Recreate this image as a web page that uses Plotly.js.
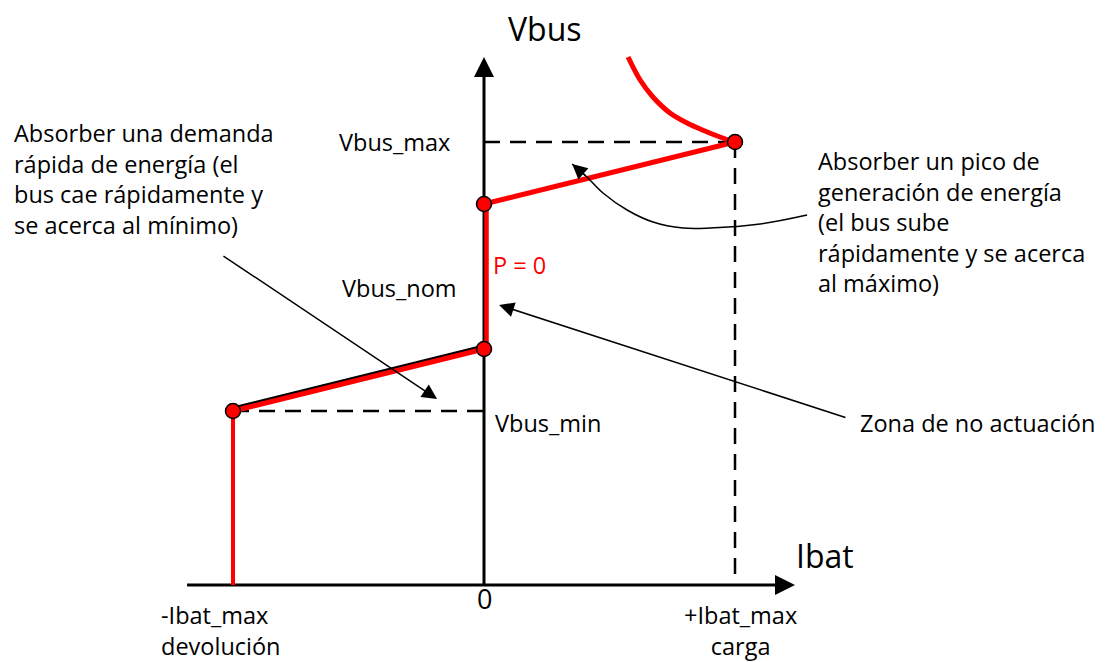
<!DOCTYPE html>
<html>
<head>
<meta charset="utf-8">
<script src="https://cdn.plot.ly/plotly-3.0.1.min.js"></script>
<style>html,body{margin:0;padding:0;background:#fff;}#chart{width:1115px;height:662px;}</style>
</head>
<body>
<div id="chart"></div>
<script>
// Characteristic values (x in units of Ibat_max, y in Vbus units of the sketch)
const ibatMax = 1;
const vbusMin = 1.74;
const vbusNomLow = 2.36;
const vbusNomHigh = 3.81;
const vbusMax = 4.43;

// Droop characteristic: -Ibat_max limit, lower slope, dead band, upper slope
const charX = [-1, -1, 0, 0, 1];
const charY = [0, 1.74, 2.36, 3.81, 4.43];

// Constant-power limit curve above Vbus_max
const limitX = [1, 0.94, 0.88, 0.809, 0.741, 0.673, 0.622, 0.574];
const limitY = [4.43, 4.48, 4.54, 4.62, 4.72, 4.88, 5.05, 5.28];

// Curved annotation pointer
const curveX = [1.287, 1.100, 0.900, 0.793, 0.673, 0.570, 0.474, 0.410, 0.351];
const curveY = [3.70, 3.61, 3.57, 3.57, 3.63, 3.75, 3.92, 4.08, 4.21];

// Axis extents
const xAxisFrom = -1.183, xAxisTo = 1.239;
const yAxisTop = 5.28;

// Labels
const labelVbus = "Vbus";
const labelIbat = "Ibat";
const labelZero = "0";
const labelNeg = "-Ibat_max<br>devolución";
const labelPos = "+Ibat_max<br>carga";
const labelVmax = "Vbus_max";
const labelVnom = "Vbus_nom";
const labelVmin = "Vbus_min";
const labelP0 = "P = 0";
const textLeft = "Absorber una demanda<br>rápida de energía (el<br>bus cae rápidamente y<br>se acerca al mínimo)";
const textRight = "Absorber un pico de<br>generación de energía<br>(el bus sube<br>rápidamente y se acerca<br>al máximo)";
const textZona = "Zona de no actuación";

const FONT = "'Open Sans', Lato, sans-serif";
const FS = 23.5;
const RED = "#ff0000";
const dash = "16px,10px";

const traces = [
  // dashed guides
  {x: [charX[1], 0], y: [vbusMin, vbusMin], mode: 'lines', line: {color: '#000', width: 2.5, dash: dash}},
  {x: [0, ibatMax], y: [vbusMax, vbusMax], mode: 'lines', line: {color: '#000', width: 2.5, dash: dash}},
  {x: [ibatMax, ibatMax], y: [vbusMax, 0], mode: 'lines', line: {color: '#000', width: 2.5, dash: dash}},
  // axes lines
  {x: [xAxisFrom, xAxisTo - 0.04], y: [0, 0], mode: 'lines', line: {color: '#000', width: 3}},
  {x: [0, 0], y: [0, yAxisTop - 0.12], mode: 'lines', line: {color: '#000', width: 3}},
  // black edge on lower slope
  {x: [charX[1], charX[2]], y: [charY[1] + 0.025, charY[2] + 0.025], mode: 'lines', line: {color: '#000', width: 4}},
  // red characteristic
  {x: [charX[0], charX[1]], y: [charY[0], charY[1]], mode: 'lines', line: {color: RED, width: 4}},
  {x: [charX[1], charX[2]], y: [charY[1], charY[2]], mode: 'lines', line: {color: RED, width: 5}},
  {x: [charX[2] + 0.01, charX[3] + 0.01], y: [charY[2], charY[3]], mode: 'lines', line: {color: RED, width: 4.5}},
  {x: [charX[3], charX[4]], y: [charY[3], charY[4]], mode: 'lines', line: {color: RED, width: 5}},
  // limit curve
  {x: limitX, y: limitY, mode: 'lines', line: {color: RED, width: 5, shape: 'spline'}},
  // curved pointer
  {x: curveX, y: curveY, mode: 'lines', line: {color: '#000', width: 1.5, shape: 'spline', smoothing: 1}},
  // markers
  {x: charX.slice(1), y: charY.slice(1), mode: 'markers', marker: {color: RED, size: 15, line: {color: '#000', width: 1.5}}}
];

const txt = (text, x, y, opts) => Object.assign({
  text: text, x: x, y: y, xref: 'x', yref: 'y', showarrow: false,
  font: {family: FONT, size: FS, color: '#000'}, xanchor: 'left', yanchor: 'middle', align: 'left'
}, opts || {});

const arrowOpts = {xref: 'x', yref: 'y', axref: 'x', ayref: 'y', showarrow: true, arrowhead: 2, arrowsize: 2, arrowwidth: 1.5, arrowcolor: '#000', text: ''};

const annotations = [
  // axis arrowheads
  {x: xAxisTo, y: 0, ax: -20, ay: 0, xref: 'x', yref: 'y', showarrow: true, arrowhead: 2, arrowsize: 1.6, arrowwidth: 2.5, arrowcolor: '#000', text: ''},
  {x: 0, y: yAxisTop, ax: 0, ay: 20, xref: 'x', yref: 'y', showarrow: true, arrowhead: 2, arrowsize: 1.6, arrowwidth: 2.5, arrowcolor: '#000', text: ''},
  // pointer arrows
  Object.assign({x: -0.187, y: 1.86, ax: -1.044, ay: 3.30}, arrowOpts),
  Object.assign({x: 0.06, y: 2.80, ax: 1.446, ay: 1.67}, arrowOpts),
  Object.assign({x: curveX[8], y: curveY[8], ax: curveX[7], ay: curveY[7]}, arrowOpts),
  // texts
  txt(labelVbus, 0.243, 5.57, {xanchor: 'center', font: {family: FONT, size: 32, color: '#000'}}),
  txt(labelIbat, 1.359, 0.30, {xanchor: 'center', font: {family: FONT, size: 32, color: '#000'}}),
  txt(labelZero, 0, -0.13, {xanchor: 'center', font: {family: FONT, size: 27, color: '#000'}}),
  txt(labelNeg, -1.293, -0.45),
  txt(labelPos, 1.02, -0.45, {xanchor: 'center', align: 'center'}),
  txt(labelVmax, -0.586, vbusMax),
  txt(labelVnom, -0.575, 2.97),
  txt(labelVmin, 0.036, 1.62),
  txt(labelP0, 0.028, 3.20, {font: {family: FONT, size: FS, color: RED}}),
  txt(textLeft, -1.88, 4.06),
  txt(textRight, 1.323, 3.63),
  txt(textZona, 1.49, 1.62)
];

const layout = {
  width: 1115, height: 662,
  margin: {l: 0, r: 0, t: 0, b: 0},
  paper_bgcolor: '#fff', plot_bgcolor: '#fff',
  showlegend: false,
  xaxis: {range: [-1.9283, 2.5139], visible: false, fixedrange: true},
  yaxis: {range: [-0.77, 5.85], visible: false, fixedrange: true},
  annotations: annotations
};

Plotly.newPlot('chart', traces, layout, {staticPlot: true, displayModeBar: false});
</script>
</body>
</html>
